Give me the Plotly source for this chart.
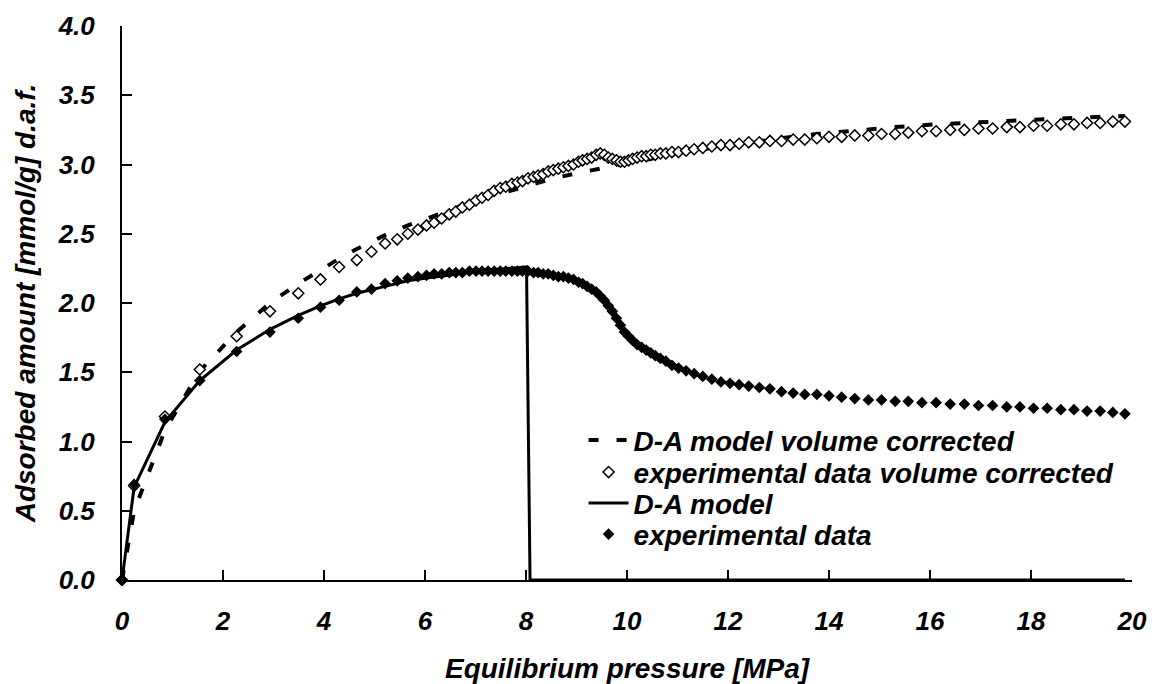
import plotly.graph_objects as go

# ---------------- data ----------------
# experimental pressures [MPa]
exp_p = [
    0.00, 0.24, 0.85, 1.54, 2.27, 2.93, 3.49, 3.93, 4.30, 4.65,
    4.94, 5.21, 5.45, 5.66, 5.86, 6.03, 6.18, 6.33, 6.48, 6.61,
    6.74, 6.88, 7.01, 7.13, 7.25, 7.37, 7.49, 7.60, 7.72, 7.83,
    7.93, 8.04, 8.15, 8.24, 8.34, 8.44, 8.54, 8.64, 8.74, 8.84,
    8.94, 9.04, 9.12, 9.21, 9.30, 9.39, 9.47, 9.55, 9.63, 9.71,
    9.79, 9.87, 9.95, 10.03, 10.11, 10.20, 10.29, 10.38, 10.47, 10.56,
    10.66, 10.77, 10.89, 11.02, 11.17, 11.33, 11.50, 11.68, 11.86, 12.04,
    12.22, 12.41, 12.62, 12.83, 13.06, 13.29, 13.52, 13.76, 14.00, 14.25,
    14.51, 14.78, 15.04, 15.31, 15.57, 15.84, 16.12, 16.40, 16.68, 16.96,
    17.24, 17.52, 17.78, 18.05, 18.32, 18.59, 18.85, 19.11, 19.37, 19.62,
    19.86,
]

# experimental data (filled diamonds) [mmol/g]
exp_q = [
    0.00, 0.69, 1.16, 1.44, 1.65, 1.79, 1.89, 1.97, 2.02, 2.08,
    2.10, 2.14, 2.16, 2.18, 2.19, 2.20, 2.21, 2.21, 2.22, 2.22,
    2.22, 2.23, 2.23, 2.23, 2.23, 2.23, 2.23, 2.23, 2.23, 2.23,
    2.23, 2.23, 2.22, 2.22, 2.21, 2.21, 2.20, 2.19, 2.19, 2.18,
    2.17, 2.15, 2.14, 2.12, 2.10, 2.08, 2.05, 2.02, 1.98, 1.94,
    1.89, 1.84, 1.79, 1.76, 1.73, 1.70, 1.68, 1.66, 1.64, 1.62,
    1.60, 1.58, 1.55, 1.53, 1.51, 1.49, 1.47, 1.45, 1.43, 1.42,
    1.41, 1.40, 1.39, 1.38, 1.36, 1.35, 1.34, 1.34, 1.33, 1.32,
    1.31, 1.30, 1.30, 1.29, 1.29, 1.28, 1.28, 1.27, 1.27, 1.26,
    1.26, 1.25, 1.25, 1.24, 1.24, 1.23, 1.23, 1.22, 1.22, 1.21,
    1.20,
]

# experimental data volume corrected (open diamonds) [mmol/g]
exp_q_corr = [
    0.00, 0.68, 1.18, 1.52, 1.76, 1.94, 2.07, 2.17, 2.26, 2.31,
    2.37, 2.43, 2.46, 2.50, 2.53, 2.56, 2.58, 2.61, 2.64, 2.66,
    2.69, 2.71, 2.74, 2.76, 2.78, 2.81, 2.83, 2.84, 2.86, 2.87,
    2.88, 2.90, 2.91, 2.92, 2.93, 2.95, 2.96, 2.97, 2.98, 2.99,
    3.00, 3.02, 3.03, 3.04, 3.05, 3.07, 3.08, 3.07, 3.05, 3.04,
    3.03, 3.02, 3.02, 3.03, 3.04, 3.05, 3.06, 3.06, 3.07, 3.07,
    3.08, 3.08, 3.09, 3.09, 3.10, 3.11, 3.12, 3.13, 3.14, 3.14,
    3.15, 3.16, 3.16, 3.17, 3.17, 3.18, 3.18, 3.19, 3.20, 3.20,
    3.21, 3.21, 3.22, 3.22, 3.23, 3.24, 3.24, 3.25, 3.25, 3.26,
    3.26, 3.27, 3.27, 3.28, 3.28, 3.29, 3.29, 3.30, 3.30, 3.31,
    3.31,
]

# D-A model volume corrected (dashed line)
model_corr_p = [0.00, 0.24, 0.85, 1.54, 2.27, 2.93, 3.49, 3.93, 4.30, 4.65,
                5.21, 5.66, 6.03, 6.48, 7.01, 7.49, 8.04, 8.54, 9.04, 9.47,
                9.95, 10.47, 11.02, 11.68, 12.41, 13.06, 13.76, 14.51, 15.31, 16.12,
                16.96, 17.78, 18.59, 19.37, 19.86]
model_corr_q = [0.00, 0.50, 1.08, 1.51, 1.79, 2.00, 2.14, 2.24, 2.32, 2.39,
                2.49, 2.56, 2.61, 2.67, 2.74, 2.79, 2.85, 2.90, 2.94, 2.97,
                3.01, 3.04, 3.08, 3.12, 3.16, 3.19, 3.22, 3.245, 3.27, 3.29,
                3.305, 3.32, 3.335, 3.345, 3.35]

# D-A model (solid line)
model_p = [0.00, 0.24, 0.85, 1.54, 2.27, 2.93, 3.49, 3.93, 4.30, 4.65,
           5.21, 5.66, 6.03, 6.48, 7.01, 7.49, 8.01, 8.08, 19.86]
model_q = [0.00, 0.67, 1.14, 1.44, 1.66, 1.81, 1.91, 1.98, 2.03, 2.07,
           2.12, 2.16, 2.18, 2.20, 2.23, 2.245, 2.26, 0.00, 0.00]

x_ticks = [0, 2, 4, 6, 8, 10, 12, 14, 16, 18, 20]
y_ticks = [0.0, 0.5, 1.0, 1.5, 2.0, 2.5, 3.0, 3.5, 4.0]

series_names = [
    "D-A model volume corrected",
    "experimental data volume corrected",
    "D-A model",
    "experimental data",
]

# ---------------- figure ----------------
FONT = "Liberation Sans, Arial, sans-serif"


def bfont(size):
    return dict(family=FONT, size=size, color="black", weight="bold", style="italic")


fig = go.Figure()

fig.add_trace(go.Scatter(
    x=model_corr_p, y=model_corr_q, mode="lines", name=series_names[0],
    line=dict(color="black", width=4, dash="10px,18px"),
    legend="legend",
))
fig.add_trace(go.Scatter(
    x=exp_p, y=exp_q_corr, mode="markers", name=series_names[1],
    marker=dict(symbol="diamond", size=8.5, color="white",
                line=dict(color="black", width=1.5)),
    cliponaxis=False, legend="legend2",
))
fig.add_trace(go.Scatter(
    x=model_p, y=model_q, mode="lines", name=series_names[2],
    line=dict(color="black", width=3),
    legend="legend3",
))
fig.add_trace(go.Scatter(
    x=exp_p, y=exp_q, mode="markers", name=series_names[3],
    marker=dict(symbol="diamond", size=9, color="black",
                line=dict(color="black", width=0)),
    cliponaxis=False, legend="legend4",
))

axis_common = dict(
    showgrid=False, zeroline=False, automargin=False,
    showline=True, linecolor="black", linewidth=2,
    ticks="inside", ticklen=10, tickwidth=2, tickcolor="black",
    tickfont=bfont(26),
)

fig.update_xaxes(
    range=[0, 20], tickvals=x_ticks, ticktext=[str(v) for v in x_ticks],
    ticklabelstandoff=17,
    title=dict(text="Equilibrium pressure [MPa]", font=bfont(28), standoff=28),
    **axis_common,
)
fig.update_yaxes(
    range=[0, 4], tickvals=y_ticks, ticktext=[f"{v:.1f}" for v in y_ticks],
    ticklabelstandoff=20,
    title=dict(text="Adsorbed amount [mmol/g] d.a.f.", font=bfont(28), standoff=14),
    **axis_common,
)


def leg(ypos):
    return dict(
        x=0.457, y=ypos, xanchor="left", yanchor="middle",
        bgcolor="rgba(0,0,0,0)", borderwidth=0,
        font=bfont(28), itemwidth=40,
    )


fig.update_layout(
    width=1152, height=684,
    margin=dict(l=122, r=20, t=26, b=104),
    paper_bgcolor="white", plot_bgcolor="white",
    showlegend=True,
    legend=leg(0.2520),
    legend2=leg(0.1943),
    legend3=leg(0.1383),
    legend4=leg(0.0823),
)

fig.write_html("out.html")
